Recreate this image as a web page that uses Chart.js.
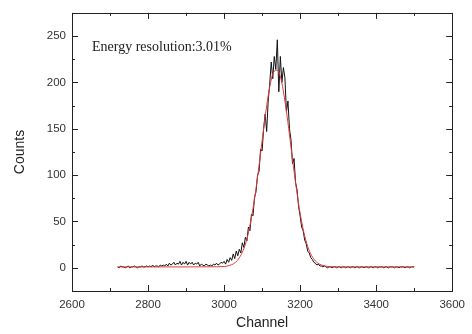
<!DOCTYPE html>
<html>
<head>
<meta charset="utf-8">
<script src="https://cdn.jsdelivr.net/npm/chart.js@4.4.1/dist/chart.umd.min.js"></script>
<style>
  html, body { margin: 0; padding: 0; background: #fff; }
  canvas { display: block; }
</style>
</head>
<body>
<canvas id="spectrum" width="472" height="334"></canvas>
<script>
// measured spectrum, one reading every 4 channels from channel 2720
const CH_START = 2720;
const CH_STEP = 4;
const counts = [
  1, 0, 2, 1, 1, 0, 1, 2, 0, 1,
  1, 2, 1, 0, 1, 1, 2, 1, 1, 2,
  1, 2, 1, 3, 1, 2, 2, 1, 3, 2,
  3, 2, 4, 2, 5, 3, 4, 6, 3, 5,
  4, 7, 3, 6, 4, 7, 3, 6, 4, 6,
  3, 5, 4, 6, 2, 4, 3, 2, 4, 3,
  2, 3, 2, 4, 3, 5, 3, 4, 6, 5,
  7, 4, 9, 6, 11, 8, 15, 10, 18, 13,
  20, 16, 27, 22, 33, 29, 44, 40, 58, 56,
  76, 82, 100, 104, 128, 126, 150, 166, 147, 180,
  198, 222, 204, 228, 214, 246, 190, 228, 200, 216,
  205, 168, 180, 150, 138, 112, 118, 92, 84, 66,
  56, 44, 40, 30, 26, 18, 16, 11, 9, 6,
  5, 3, 4, 2, 2, 1, 2, 1, 0, 1,
  1, 0, 1, 1, 0, 1, 1, 0, 1, 1,
  0, 1, 1, 0, 1, 1, 0, 1, 1, 0,
  1, 1, 0, 1, 1, 0, 1, 1, 0, 1,
  1, 0, 1, 1, 1, 0, 1, 1, 0, 1,
  1, 1, 0, 1, 1, 0, 1, 1, 1, 0,
  1, 1, 0, 1, 1, 1
];

// gaussian fit (red line)
const fitChannels = [2720, 2800, 2900, 2960, 3000, 3010, 3020, 3030, 3040, 3050, 3060, 3070, 3080, 3090,
  3100, 3110, 3120, 3130, 3140, 3150, 3160, 3170, 3180, 3190, 3200, 3210, 3220, 3230, 3240,
  3250, 3260, 3270, 3280, 3290, 3300, 3400, 3500];
const fitCounts = [1, 1, 1, 1.1, 1.4, 2.1, 3.4, 5.9, 10.7, 18.7, 31, 50, 74, 104,
  137, 169, 195, 211, 213, 203, 180, 150, 117, 86, 59, 38, 23, 13.4, 7.5,
  4.2, 2.5, 1.6, 1.3, 1.1, 1, 1, 1];

const xTicks = [2600, 2800, 3000, 3200, 3400, 3600];
const xMinor = [2700, 2900, 3100, 3300, 3500];
const yTicks = [0, 50, 100, 150, 200, 250];
const yMinor = [25, 75, 125, 175, 225];
const note = 'Energy resolution:3.01%';

const spectrum = counts.map((c, i) => ({ x: CH_START + i * CH_STEP, y: c }));
const fit = fitChannels.map((ch, i) => ({ x: ch, y: fitCounts[i] }));

// box round the plot, inward ticks on all four sides, and the note
const frameTicks = {
  id: 'frameTicks',
  afterDraw(chart) {
    const { ctx, chartArea: a, scales: { x, y } } = chart;
    ctx.save();
    ctx.strokeStyle = '#222';
    ctx.lineWidth = 1;
    ctx.beginPath();
    const onX = (vals, len) => vals.forEach(v => {
      const px = Math.round(x.getPixelForValue(v)) + 0.5;
      ctx.moveTo(px, a.bottom); ctx.lineTo(px, a.bottom - len);
      ctx.moveTo(px, a.top); ctx.lineTo(px, a.top + len);
    });
    const onY = (vals, len) => vals.forEach(v => {
      const py = Math.round(y.getPixelForValue(v)) + 0.5;
      ctx.moveTo(a.left, py); ctx.lineTo(a.left + len, py);
      ctx.moveTo(a.right, py); ctx.lineTo(a.right - len, py);
    });
    onX(xTicks, 6); onX(xMinor, 3);
    onY(yTicks, 6); onY(yMinor, 3);
    ctx.stroke();
    ctx.strokeRect(Math.round(a.left) + 0.5, Math.round(a.top) + 0.5,
      Math.round(a.right - a.left), Math.round(a.bottom - a.top));
    ctx.font = '14px "Liberation Serif"';
    ctx.fillStyle = '#222';
    ctx.textBaseline = 'middle';
    ctx.fillText(note, 92, 47);
    ctx.restore();
  }
};

const tickFont = { family: 'Liberation Sans', size: 11.5 };
const titleFont = { family: 'Liberation Sans', size: 14 };

new Chart(document.getElementById('spectrum'), {
  type: 'line',
  data: {
    datasets: [
      { data: fit, borderColor: '#e23a3a', borderWidth: 1, pointRadius: 0, cubicInterpolationMode: 'monotone', order: 0 },
      { data: spectrum, borderColor: '#111', borderWidth: 1, pointRadius: 0, tension: 0, order: 1 }
    ]
  },
  options: {
    responsive: false,
    animation: false,
    events: [],
    layout: { padding: { top: 4, right: 12, left: 0, bottom: 0 } },
    plugins: { legend: { display: false }, tooltip: { enabled: false } },
    scales: {
      x: {
        type: 'linear', min: 2600, max: 3600,
        afterBuildTicks: s => { s.ticks = xTicks.map(v => ({ value: v })); },
        afterFit: s => { s.height = 43; },
        grid: { display: false, drawTicks: false },
        border: { display: false },
        ticks: { color: '#333', font: tickFont, padding: 7, maxRotation: 0, autoSkip: false, callback: v => String(v) },
        title: { display: true, text: 'Channel', color: '#222', font: titleFont, padding: { top: 0, bottom: 2 } }
      },
      y: {
        min: -25, max: 275,
        afterBuildTicks: s => { s.ticks = yTicks.map(v => ({ value: v })); },
        afterFit: s => { s.width = 72; },
        grid: { display: false, drawTicks: false },
        border: { display: false },
        ticks: { color: '#333', font: tickFont, padding: 6, callback: v => String(v) },
        title: { display: true, text: 'Counts', color: '#222', font: titleFont, padding: { top: 12, bottom: 0 } }
      }
    }
  },
  plugins: [frameTicks]
});
</script>
</body>
</html>
